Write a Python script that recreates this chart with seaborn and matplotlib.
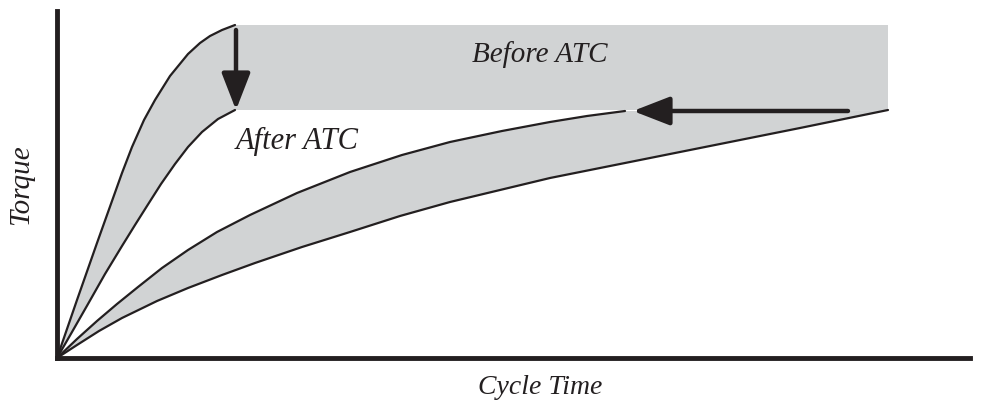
import numpy as np
import pandas as pd
import seaborn as sns
import matplotlib.pyplot as plt

# curves (time, torque) in arbitrary units
before_fast_t = [0, 20, 40, 55, 65, 75, 87, 98, 113, 131, 143, 153, 165, 178]
before_fast_q = [0, 58, 115, 157, 185, 211, 238, 258, 282, 304, 315, 322, 328, 333]

after_fast_t = [0, 15, 31, 48, 65, 78, 90, 104, 118, 131, 145, 161, 178]
after_fast_q = [0, 26, 54, 84, 112, 133, 152, 174, 194, 211, 226, 239, 248]

after_slow_t = [0, 20, 40, 60, 81, 105, 131, 160, 193, 240, 293, 345, 393, 445, 493, 530, 568]
after_slow_q = [0, 19, 37, 54, 71, 90, 108, 126, 143, 165, 186, 203, 216, 227, 236, 242, 247]

before_slow_t = [0, 20, 42, 65, 100, 131, 165, 198, 245, 293, 343, 393, 443, 493, 543, 593,
                 643, 693, 743, 787, 831]
before_slow_q = [0, 13, 27, 40, 57, 70, 83, 95, 111, 126, 142, 156, 168, 180, 190, 200,
                 210, 220, 230, 239, 248]

# "Before ATC" band
band_t = [178, 831]
band_q = [248, 333]

# arrows (start, end)
arrow_down = [(179, 328), (179, 248)]
arrow_left = [(791, 247), (576, 247)]

ink = '#231f20'
shade = '#d1d3d4'

sns.set_style('white')
plt.rcParams['font.family'] = ['Liberation Serif', 'DejaVu Serif']

fig = plt.figure(figsize=(9.83, 4.0), dpi=100)
ax = fig.add_axes([57 / 983, 42 / 400, 913 / 983, 347 / 400])
ax.set_xlim(0, 913)
ax.set_ylim(0, 347)

# shaded areas
ax.fill(before_fast_t + after_fast_t[::-1], before_fast_q + after_fast_q[::-1],
        color=shade, lw=0, zorder=1)
ax.fill([band_t[0], band_t[1], band_t[1], band_t[0]],
        [band_q[0], band_q[0], band_q[1], band_q[1]], color=shade, lw=0, zorder=1)
ax.fill(before_slow_t + after_slow_t[::-1], before_slow_q + after_slow_q[::-1],
        color=shade, lw=0, zorder=1)

frames = []
for name, t, q in [('before_fast', before_fast_t, before_fast_q),
                   ('after_fast', after_fast_t, after_fast_q),
                   ('after_slow', after_slow_t, after_slow_q),
                   ('before_slow', before_slow_t, before_slow_q)]:
    frames.append(pd.DataFrame({'t': t, 'q': q, 'curve': name}))
df = pd.concat(frames, ignore_index=True)

sns.lineplot(data=df, x='t', y='q', units='curve', estimator=None, sort=False,
             color=ink, lw=1.6, ax=ax, zorder=3)

for start, end in [arrow_down, arrow_left]:
    ax.annotate('', xy=end, xytext=start,
                arrowprops=dict(arrowstyle='-|>,head_length=0.9,head_width=0.35',
                                lw=3.2, color=ink, shrinkA=0, shrinkB=0,
                                mutation_scale=25),
                zorder=4)

ax.text(483, 303, 'Before ATC', style='italic', fontsize=21, color=ink,
        ha='center', va='center')
ax.text(240, 217, 'After ATC', style='italic', fontsize=22, color=ink,
        ha='center', va='center')
ax.text(483, -30, 'Cycle Time', style='italic', fontsize=20, color=ink,
        ha='center', va='center', clip_on=False)
ax.text(-36, 173, 'Torque', style='italic', fontsize=21, color=ink, rotation=90,
        ha='center', va='center', clip_on=False)

ax.set_xlabel('')
ax.set_ylabel('')
ax.set_xticks([])
ax.set_yticks([])
sns.despine(ax=ax)
for side in ['left', 'bottom']:
    ax.spines[side].set_linewidth(3.5)
    ax.spines[side].set_color(ink)
    ax.spines[side].set_zorder(5)

fig.savefig('out.png', dpi=100)
